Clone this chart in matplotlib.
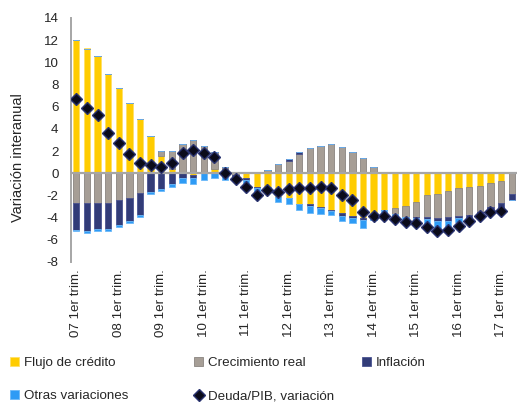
import numpy as np
import matplotlib
matplotlib.use('Agg')
import matplotlib.pyplot as plt
from matplotlib.patches import Patch
from matplotlib.lines import Line2D

plt.rcParams['font.family'] = ['Liberation Sans', 'DejaVu Sans']
plt.rcParams['axes.unicode_minus'] = False

# datos trimestrales 2007T1 - 2017T2
flujo_credito = [12.05, 11.25, 10.55, 8.95, 7.65, 6.3, 4.85, 3.4, 1.6, 0.4,
                 0.0, -0.15, 0.0, 0.4, 0.0, 0.15, -0.45, -1.2, -1.26, -2.1,
                 -2.25, -2.76, -2.8, -3.0, -3.3, -3.54, -3.84, -4.0, -3.65, -3.3,
                 -3.1, -2.94, -2.56, -2.0, -1.9, -1.62, -1.32, -1.2, -1.11, -0.87,
                 -0.72, 0.0]
crecimiento_real = [-2.64, -2.64, -2.64, -2.67, -2.43, -2.22, -1.77, 0.0, 0.45, 1.65,
                    2.6, 3.0, 2.45, 1.5, 0.6, -0.2, 0.0, 0.06, 0.3, 0.85,
                    1.15, 1.75, 2.28, 2.43, 2.6, 2.37, 1.96, 1.38, 0.6, 0.0,
                    -0.56, -1.02, -1.4, -1.9, -2.1, -2.34, -2.49, -2.55, -2.4, -2.19,
                    -1.98, -1.86]
inflacion = [-2.49, -2.56, -2.41, -2.38, -2.27, -2.08, -2.01, -1.65, -1.41, -0.96,
             -0.45, -0.25, 0.0, 0.0, 0.0, -0.1, -0.15, -0.13, 0.0, 0.0,
             0.15, 0.15, -0.15, -0.15, -0.12, -0.3, -0.16, -0.2, -0.15, 0.1,
             0.1, 0.15, -0.1, -0.2, -0.3, -0.36, -0.21, -0.36, -0.21, -0.36,
             -0.51, -0.54]
otras_variaciones = [-0.07, -0.15, -0.15, -0.15, -0.16, -0.2, -0.18, -0.2, -0.2, -0.3,
                     -0.42, -0.55, -0.65, -0.45, -0.65, -0.35, -0.65, -0.37, -0.1, -0.5,
                     -0.5, -0.55, -0.65, -0.5, -0.3, -0.46, -0.5, -0.75, -0.45, -0.35,
                     -0.3, -0.35, -0.35, -0.7, -0.6, -0.54, -0.39, 0.0, 0.0, 0.0,
                     0.0, 0.0]
deuda_pib = [6.7, 5.85, 5.25, 3.65, 2.75, 1.77, 0.93, 0.78, 0.57, 0.93,
             1.83, 2.07, 1.83, 1.47, 0.0, -0.5, -1.26, -1.95, -1.5, -1.71,
             -1.41, -1.32, -1.35, -1.2, -1.32, -1.95, -2.4, -3.5, -3.87, -3.85,
             -4.1, -4.42, -4.45, -4.86, -5.16, -5.1, -4.71, -4.26, -3.87, -3.45,
             -3.36, np.nan]
anios = ['07', '08', '09', '10', '11', '12', '13', '14', '15', '16', '17']

series = [
    ('Flujo de crédito', flujo_credito, '#FFCC00', '#FFE066'),
    ('Crecimiento real', crecimiento_real, '#A69E96', '#8A8580'),
    ('Inflación', inflacion, '#323C78', '#4A5390'),
    ('Otras variaciones', otras_variaciones, '#2E9BF5', '#6BB8F8'),
]

n = len(flujo_credito)
x = np.arange(n)

fig = plt.figure(figsize=(5.26, 4.03), dpi=100)
ax = fig.add_axes([71 / 526, 1 - 262 / 403, (517 - 71) / 526, (262 - 18) / 403])

pos_base = np.zeros(n)
neg_base = np.zeros(n)
for name, vals, color, edge in series:
    v = np.array(vals)
    pos = np.where(v > 0, v, 0)
    neg = np.where(v < 0, v, 0)
    ax.bar(x, pos, 0.6, bottom=pos_base, color=color, edgecolor=edge, linewidth=0.6, zorder=2)
    ax.bar(x, neg, 0.6, bottom=neg_base, color=color, edgecolor=edge, linewidth=0.6, zorder=2)
    pos_base += pos
    neg_base += neg

ax.axhline(0, color='#A6A6A6', lw=1.6, zorder=3)
ax.plot(x, deuda_pib, ls='none', marker='D', ms=6.5, mfc='#0B0B1A', mec='#2A3370', mew=1.0, zorder=4)

ax.set_xlim(-0.5, n - 0.5)
ax.set_ylim(-8, 14)
ax.set_yticks(np.arange(-8, 15, 2))
ax.set_xticks(np.arange(0, n, 4))
ax.set_xticklabels([a + ' 1er trim.' for a in anios], rotation=90, fontsize=9.6, color='#262626')
ax.tick_params(axis='y', labelsize=9.6, colors='#262626', length=0, pad=9)
ax.tick_params(axis='x', length=0, pad=5)
for s in ['top', 'right', 'bottom']:
    ax.spines[s].set_visible(False)
ax.spines['left'].set_color('#A6A6A6')
ax.spines['left'].set_linewidth(1.4)
ax.set_ylabel('Variación interanual', fontsize=10.5, color='#262626')
ax.yaxis.set_label_coords(-0.104, 0.43)

def mk_legend(handles, labels, xpx, ypx):
    leg = fig.legend(handles, labels, loc='upper left', bbox_to_anchor=(xpx / 526, 1 - ypx / 403),
                     frameon=False, fontsize=9.6, handlelength=0.7, handleheight=0.7,
                     handletextpad=0.35, labelspacing=1.55, borderpad=0, borderaxespad=0)
    for t in leg.get_texts():
        t.set_color('#262626')
    return leg

sq = [Patch(facecolor=c, edgecolor=e, linewidth=0.6) for _, _, c, e in series]
dia = Line2D([], [], ls='none', marker='D', ms=6.5, mfc='#0B0B1A', mec='#2A3370', mew=1.0)
mk_legend([sq[0], sq[3]], [series[0][0], series[3][0]], 10, 357)
mk_legend([sq[1], dia], [series[1][0], 'Deuda/PIB, variación'], 194, 357)
mk_legend([sq[2]], [series[2][0]], 362, 357)

fig.savefig('out.png', dpi=100)
